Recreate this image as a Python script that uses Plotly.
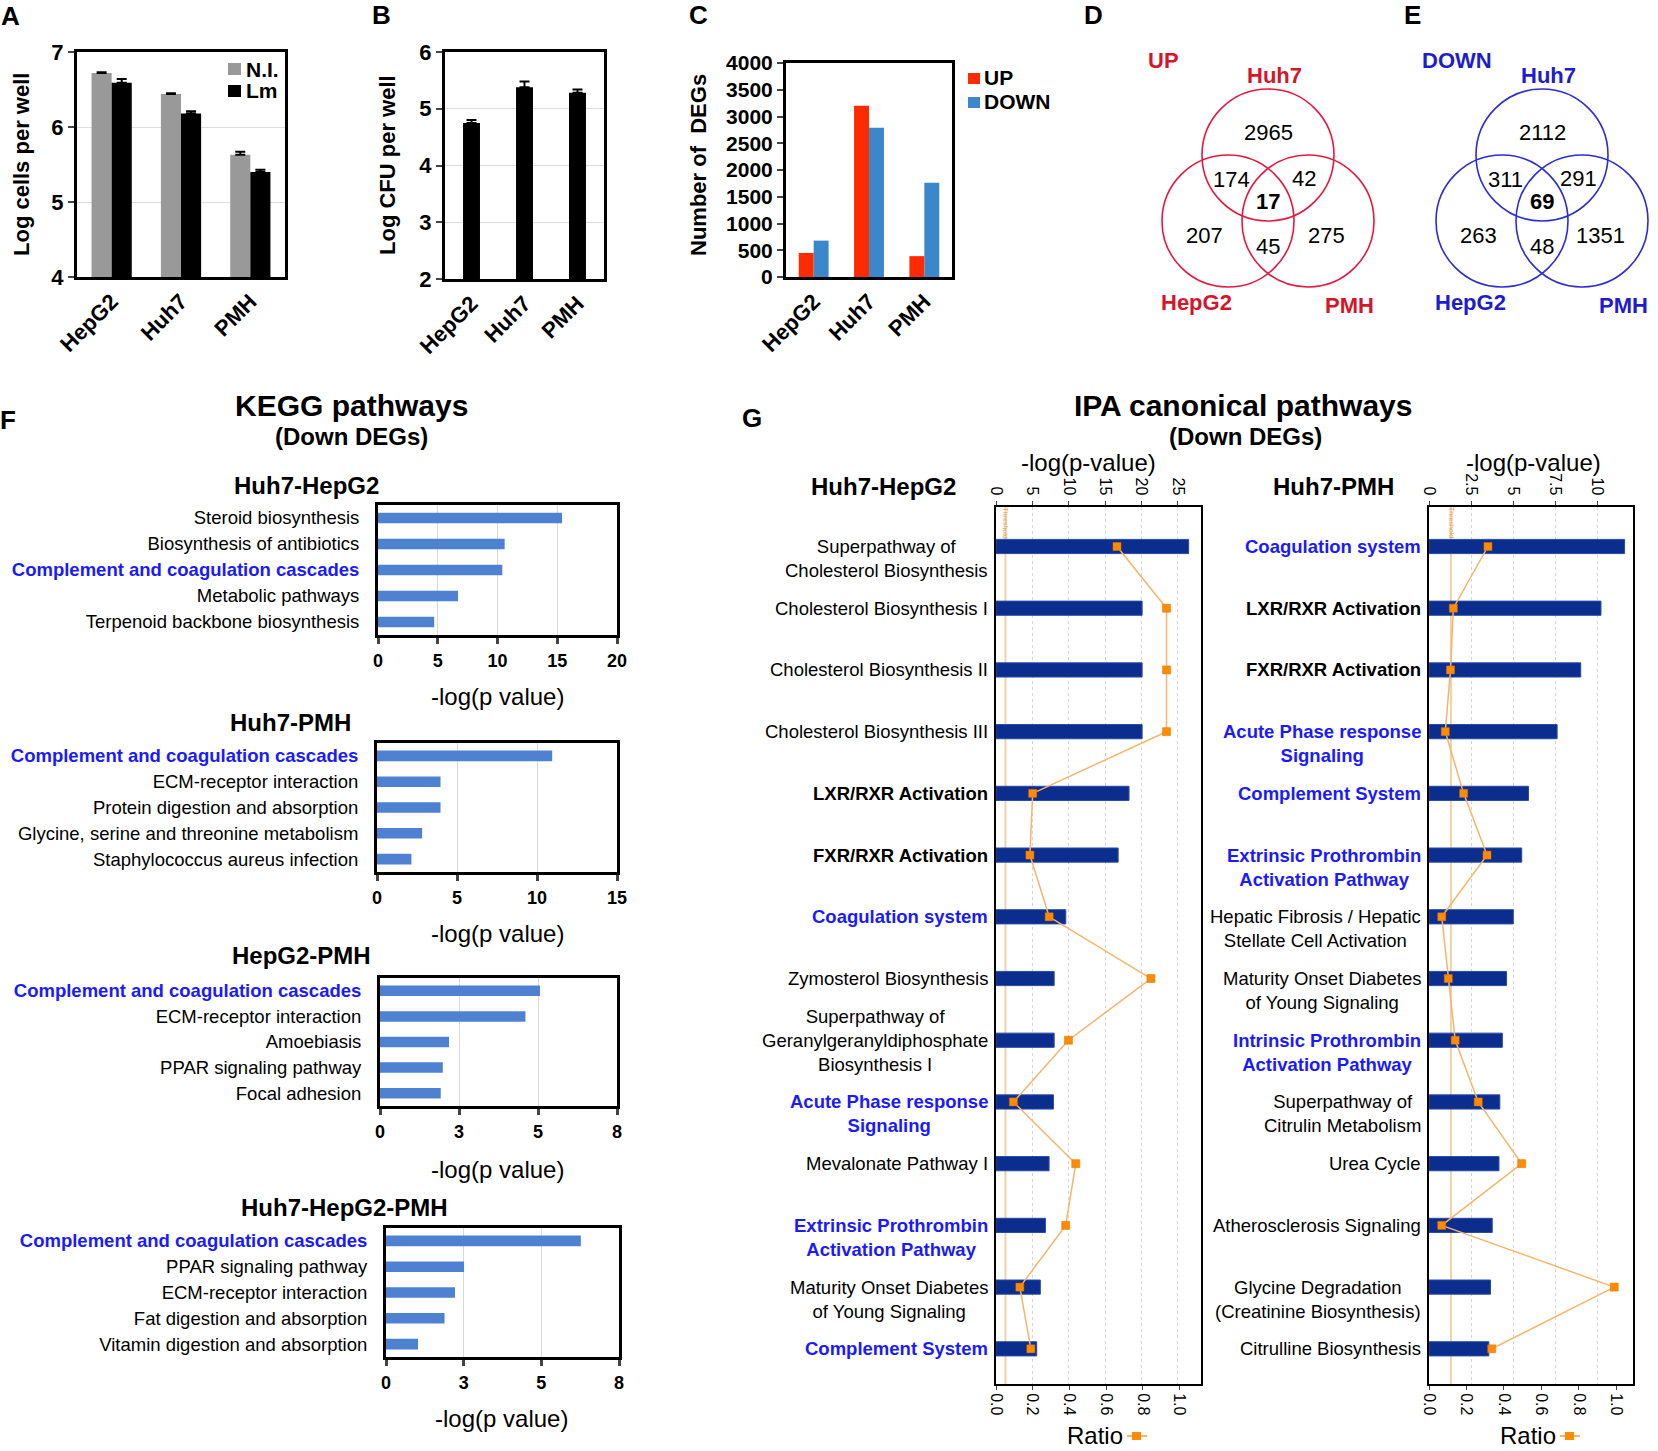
import plotly.graph_objects as go

W, H = 1658, 1451
FONT = "Liberation Sans, Arial, Helvetica, sans-serif"

# ---------------- data ----------------
cell_lines = ["HepG2", "Huh7", "PMH"]
a_series = ["N.I.", "Lm"]
a_ni = [6.72, 6.44, 5.63]
a_ni_err = [0.01, 0.01, 0.04]
a_lm = [6.59, 6.18, 5.40]
a_lm_err = [0.05, 0.03, 0.03]
b_cfu = [4.75, 5.38, 5.28]
b_cfu_err = [0.05, 0.10, 0.06]
c_series = ["UP", "DOWN"]
c_up = [450, 3200, 390]
c_down = [680, 2790, 1760]

venn_sets = ["Huh7", "HepG2", "PMH"]
venn_regions = ["Huh7", "HepG2", "PMH", "Huh7+HepG2", "Huh7+PMH", "HepG2+PMH", "all"]
venn_up = [2965, 207, 275, 174, 42, 45, 17]
venn_down = [2112, 263, 1351, 311, 291, 48, 69]

kegg_highlight = "Complement and coagulation cascades"
f1_title = "Huh7-HepG2"
f1_terms = ["Steroid biosynthesis", "Biosynthesis of antibiotics",
            "Complement and coagulation cascades", "Metabolic pathways",
            "Terpenoid backbone biosynthesis"]
f1_vals = [15.4, 10.6, 10.4, 6.7, 4.7]
f2_title = "Huh7-PMH"
f2_terms = ["Complement and coagulation cascades", "ECM-receptor interaction",
            "Protein digestion and absorption", "Glycine, serine and threonine metabolism",
            "Staphylococcus aureus infection"]
f2_vals = [10.95, 3.97, 3.97, 2.82, 2.15]
f3_title = "HepG2-PMH"
f3_terms = ["Complement and coagulation cascades", "ECM-receptor interaction",
            "Amoebiasis", "PPAR signaling pathway", "Focal adhesion"]
f3_vals = [5.40, 4.91, 2.33, 2.12, 2.05]
f4_title = "Huh7-HepG2-PMH"
f4_terms = ["Complement and coagulation cascades", "PPAR signaling pathway",
            "ECM-receptor interaction", "Fat digestion and absorption",
            "Vitamin digestion and absorption"]
f4_vals = [6.69, 2.68, 2.37, 2.01, 1.10]
f_ticklabels_8 = ["0", "3", "5", "8"]

g1_title = "Huh7-HepG2"
g1_terms = ["Superpathway of<br>Cholesterol Biosynthesis", "Cholesterol Biosynthesis I",
            "Cholesterol Biosynthesis II", "Cholesterol Biosynthesis III",
            "LXR/RXR Activation", "FXR/RXR Activation", "Coagulation system",
            "Zymosterol Biosynthesis",
            "Superpathway of<br>Geranylgeranyldiphosphate<br>Biosynthesis I",
            "Acute Phase response<br>Signaling", "Mevalonate Pathway I",
            "Extrinsic Prothrombin<br>Activation Pathway",
            "Maturity Onset Diabetes<br>of Young Signaling", "Complement System"]
g1_logp = [26.5, 20.1, 20.1, 20.1, 18.3, 16.8, 9.6, 8.0, 8.0, 7.9, 7.3, 6.8, 6.1, 5.6]
g1_ratio = [0.66, 0.93, 0.93, 0.93, 0.20, 0.185, 0.29, 0.845, 0.395, 0.095, 0.435, 0.38, 0.13, 0.19]
g1_emph = ["", "", "", "", "bold", "bold", "blue", "", "", "blue", "", "blue", "", "blue"]

g2_title = "Huh7-PMH"
g2_terms = ["Coagulation system", "LXR/RXR Activation", "FXR/RXR Activation",
            "Acute Phase response<br>Signaling", "Complement System",
            "Extrinsic Prothrombin<br>Activation Pathway",
            "Hepatic Fibrosis / Hepatic<br>Stellate Cell Activation",
            "Maturity Onset Diabetes<br>of Young Signaling",
            "Intrinsic Prothrombin<br>Activation Pathway",
            "Superpathway of<br>Citrulin Metabolism", "Urea Cycle",
            "Atherosclerosis Signaling",
            "Glycine Degradation<br>(Creatinine Biosynthesis)", "Citrulline Biosynthesis"]
g2_logp = [11.6, 10.2, 9.0, 7.6, 5.9, 5.5, 5.0, 4.6, 4.35, 4.2, 4.15, 3.75, 3.65, 3.55]
g2_ratio = [0.315, 0.13, 0.115, 0.087, 0.185, 0.31, 0.068, 0.103, 0.14, 0.263, 0.495, 0.068, 0.99, 0.335]
g2_emph = ["blue", "bold", "bold", "blue", "blue", "blue", "", "", "blue", "", "", "", "", ""]
ipa_threshold = 1.3

# ---------------- helpers ----------------
def fx(px):
    return px / W


def fy(py):
    return 1 - py / H


annotations, shapes = [], []


def add_text(t, x, y, size, bold=False, color="black", xanchor="center",
             yanchor="middle", angle=0, yshift=0, align="center"):
    annotations.append(dict(
        text=t, showarrow=False, xanchor=xanchor, yanchor=yanchor, textangle=angle,
        align=align, x=fx(x), y=fy(y), xref="paper", yref="paper", yshift=yshift,
        font=dict(family=FONT, size=size, color=color, weight="bold" if bold else "normal")))


def add_rect(x0, y0, x1, y1, color):
    shapes.append(dict(type="rect", xref="paper", yref="paper", x0=fx(x0), x1=fx(x1),
                       y0=fy(y1), y1=fy(y0), fillcolor=color, line=dict(width=0)))


def xid(n):
    return "x" if n == 1 else f"x{n}"


def yid(n):
    return "y" if n == 1 else f"y{n}"


def xkey(n):
    return "xaxis" if n == 1 else f"xaxis{n}"


def ykey(n):
    return "yaxis" if n == 1 else f"yaxis{n}"


BASE = dict(showline=True, linecolor="black", mirror=True, zeroline=False,
            automargin=False, showgrid=False)

layout = dict(width=W, height=H, margin=dict(l=0, r=0, t=0, b=0), template="none",
              paper_bgcolor="white", plot_bgcolor="white",
              font=dict(family=FONT, color="black"), barmode="overlay", showlegend=False)

fig = go.Figure()

# ---------------- panels A, B, C ----------------
def top_axes(n, x0, x1, y0, y1, yrange, dtick, grid, ysize):
    layout[xkey(n)] = dict(BASE, domain=[fx(x0), fx(x1)], anchor=yid(n), range=[-0.5, 2.5],
                           linewidth=3, ticks="", tickangle=-45,
                           tickfont=dict(size=22, weight="bold"))
    layout[ykey(n)] = dict(BASE, domain=[fy(y1), fy(y0)], anchor=xid(n), range=yrange,
                           dtick=dtick, linewidth=3, ticks="outside", ticklen=6, tickwidth=2,
                           tickfont=dict(size=ysize, weight="bold"),
                           showgrid=grid, gridcolor="#dcdcdc", gridwidth=1)


top_axes(1, 77, 285, 52, 277, [4, 7], 1, True, 22)
top_axes(2, 445, 604, 52, 279, [2, 6], 1, True, 22)
top_axes(3, 786, 952, 63, 277, [0, 4000], 500, False, 21)

a_colors = ["#999999", "#000000"]
for vals, errs, name, col, off in [(a_ni, a_ni_err, a_series[0], a_colors[0], -0.29),
                                   (a_lm, a_lm_err, a_series[1], a_colors[1], 0.0)]:
    fig.add_trace(go.Bar(x=cell_lines, y=vals, name=name, xaxis="x", yaxis="y",
                         width=0.29, offset=off, marker=dict(color=col, line=dict(width=0)),
                         error_y=dict(type="data", array=errs, arrayminus=[0] * len(errs),
                                      symmetric=False, color="black", thickness=2, width=5)))

fig.add_trace(go.Bar(x=cell_lines, y=b_cfu, name="CFU", xaxis="x2", yaxis="y2", width=0.32,
                     marker=dict(color="black", line=dict(width=0)),
                     error_y=dict(type="data", array=b_cfu_err, arrayminus=[0] * 3,
                                  symmetric=False, color="black", thickness=2, width=5)))

c_colors = ["#ff2a00", "#3a88c9"]
for vals, name, col, off in [(c_up, c_series[0], c_colors[0], -0.27),
                             (c_down, c_series[1], c_colors[1], 0.0)]:
    fig.add_trace(go.Bar(x=cell_lines, y=vals, name=name, xaxis="x3", yaxis="y3",
                         width=0.27, offset=off, marker=dict(color=col, line=dict(width=0))))

# legends (A and C)
for i, (name, col) in enumerate(zip(a_series, a_colors)):
    add_rect(228, 63 + 22 * i, 241, 75 + 22 * i, col)
    add_text(name, 244, 69 + 22 * i, 21, bold=True, xanchor="left")
for i, (name, col) in enumerate(zip(c_series, c_colors)):
    add_rect(968, 73 + 24 * i, 980, 84 + 24 * i, col)
    add_text(name, 982, 78 + 24 * i, 21, bold=True, xanchor="left")

add_text("Log cells per well", 21, 165, 22, bold=True, angle=-90)
add_text("Log CFU per well", 387, 165, 22, bold=True, angle=-90)
add_text("Number of\u00a0 DEGs", 698, 165, 22, bold=True, angle=-90)

# ---------------- Venn diagrams D, E ----------------
circle_off = {"Huh7": (0, -44), "HepG2": (-40, 22), "PMH": (40, 22)}
region_off = {"Huh7": (0, -66), "HepG2": (-64, 36), "PMH": (58, 36),
              "Huh7+HepG2": (-37, -19), "Huh7+PMH": (36, -20),
              "HepG2+PMH": (0, 47), "all": (0, 3)}
setlabel_off = {"Huh7": (6, -124), "HepG2": (-72, 103), "PMH": (81, 106)}
R = 66
for title, counts, cx, cy, line_col, txt_col in [
        ("UP", venn_up, 1268, 199, "#e5193f", "#d4162c"),
        ("DOWN", venn_down, 1542, 199, "#2c2cd4", "#1d1dcc")]:
    for s in venn_sets:
        dx, dy = circle_off[s]
        shapes.append(dict(type="circle", xref="paper", yref="paper",
                           x0=fx(cx + dx - R), x1=fx(cx + dx + R),
                           y0=fy(cy + dy + R), y1=fy(cy + dy - R),
                           line=dict(color=line_col, width=1.6)))
        lx, ly = setlabel_off[s]
        add_text(s, cx + lx, cy + ly, 22, bold=True, color=txt_col)
    for reg, cnt in zip(venn_regions, counts):
        dx, dy = region_off[reg]
        add_text(str(cnt), cx + dx, cy + dy, 22, bold=(reg == "all"))
    add_text(title, cx - 122, cy - 139, 22, bold=True, color=txt_col, xanchor="left")

# ---------------- F: KEGG ----------------
f_panels = [
    (4, f1_title, f1_terms, f1_vals, (378, 617, 505, 635), 20, None, (306, 485), (498, 696)),
    (5, f2_title, f2_terms, f2_vals, (377, 617, 743, 872), 15, None, (290, 722), (497, 933)),
    (6, f3_title, f3_terms, f3_vals, (380, 617, 978, 1106), 8, f_ticklabels_8, (301, 955), (498, 1169)),
    (7, f4_title, f4_terms, f4_vals, (386, 619, 1228, 1357), 8, f_ticklabels_8, (344, 1207), (501, 1418)),
]
for n, title, terms, vals, (x0, x1, y0, y1), xmax, tl, tpos, xtpos in f_panels:
    if tl is None:
        tickvals = list(range(0, xmax + 1, 5))
        ticktext = [str(v) for v in tickvals]
    else:
        tickvals = [xmax * i / (len(tl) - 1) for i in range(len(tl))]
        ticktext = tl
    layout[xkey(n)] = dict(BASE, domain=[fx(x0), fx(x1)], anchor=yid(n), range=[0, xmax],
                           linewidth=3, tickvals=tickvals, ticktext=ticktext,
                           ticks="outside", ticklen=6, tickwidth=3, ticklabelstandoff=1,
                           tickfont=dict(size=18, weight="bold"),
                           showgrid=True, gridcolor="#d9d9d9", gridwidth=1)
    ytext = [f"<b><span style='color:#1a1aff'>{t}</span></b>" if t == kegg_highlight else t
             for t in terms]
    layout[ykey(n)] = dict(BASE, domain=[fy(y1), fy(y0)], anchor=xid(n), range=[4.5, -0.5],
                           linewidth=3, tickvals=terms, ticktext=ytext, ticks="",
                           ticklabelstandoff=12, tickfont=dict(size=18.5))
    fig.add_trace(go.Bar(x=vals, y=terms, orientation="h", xaxis=xid(n), yaxis=yid(n),
                         width=0.41, marker=dict(color="#4f81d3", line=dict(width=0))))
    add_text(title, tpos[0], tpos[1], 24, bold=True)
    add_text("-log(p value)", xtpos[0], xtpos[1], 24)

add_text("KEGG pathways", 351, 405, 30, bold=True)
add_text("(Down DEGs)", 351, 436, 24, bold=True)

# ---------------- G: IPA ----------------
GFS = 18.5
LH = GFS * 1.3
g_panels = [
    (8, 9, g1_title, g1_terms, g1_logp, g1_ratio, g1_emph, (996, 1201), 28.2, 5, 1.118, 883, 1088),
    (10, 11, g2_title, g2_terms, g2_logp, g2_ratio, g2_emph, (1429, 1633), 12.1, 2.5, 1.09, 1333, 1533),
]
GY0, GY1 = 507, 1384
for nb, nr, title, terms, logp, ratio, emph, (x0, x1), lmax, ldt, rmax, tx, ltx in g_panels:
    idx = list(range(len(terms)))
    layout[xkey(nb)] = dict(BASE, domain=[fx(x0), fx(x1)], anchor=yid(nb), side="top",
                            mirror=False, range=[0, lmax], dtick=ldt, linewidth=2,
                            ticks="outside", ticklen=4, tickwidth=1, tickangle=90,
                            tickfont=dict(size=16), showgrid=True, gridcolor="#d4d4d4",
                            griddash="dot", gridwidth=1)
    layout[xkey(nr)] = dict(BASE, overlaying=xid(nb), anchor=yid(nb), side="bottom",
                            mirror=False, range=[0, rmax], dtick=0.2, tickformat=".1f",
                            linewidth=2, ticks="outside", ticklen=4, tickwidth=1,
                            tickangle=90, tickfont=dict(size=16))
    layout[ykey(nb)] = dict(BASE, domain=[fy(GY1), fy(GY0)], anchor=xid(nb),
                            range=[len(terms) - 1 + 0.57, -0.64], linewidth=2,
                            showticklabels=False, ticks="")
    shapes.append(dict(type="line", xref=xid(nb), yref=f"{yid(nb)} domain",
                       x0=ipa_threshold, x1=ipa_threshold, y0=0, y1=1,
                       line=dict(color="#f2d2a4", width=2), layer="below"))
    annotations.append(dict(text="Threshold", xref=xid(nb), yref="paper", x=ipa_threshold,
                            y=fy(GY0 + 16), showarrow=False, textangle=90,
                            font=dict(size=7, color="#e0a860")))
    fig.add_trace(go.Bar(x=logp, y=idx, orientation="h", xaxis=xid(nb), yaxis=yid(nb),
                         width=0.23, marker=dict(color="#0b2d8e",
                                                 line=dict(color="#2a4aa6", width=1))))
    fig.add_trace(go.Scatter(x=ratio, y=idx, xaxis=xid(nr), yaxis=yid(nb),
                             mode="lines+markers", line=dict(color="#f5b56a", width=1.5),
                             marker=dict(symbol="square", size=8, color="#ff8c00",
                                         line=dict(color="#e07000", width=0.5))))
    for i, (t, e) in enumerate(zip(terms, emph)):
        nl = t.count("<br>") + 1
        shift = ((nl - 1) / 2 - (nl - 1) // 2) * LH
        col = "#1a1aff" if e == "blue" else "black"
        annotations.append(dict(
            text=t, showarrow=False, xref="paper", x=fx(x0 - 6), xanchor="right",
            yref=yid(nb), y=i, yanchor="middle", yshift=-shift, align="center",
            font=dict(family=FONT, size=GFS, color=col,
                      weight="bold" if e in ("blue", "bold") else "normal")))
    add_text(title, tx, 486, 24, bold=True)
    add_text("-log(p-value)", ltx, 462, 24)
    # Ratio legend
    add_text("Ratio", x0 + 69, 1435, 24, xanchor="left")
    shapes.append(dict(type="line", xref="paper", yref="paper", x0=fx(x0 + 131),
                       x1=fx(x0 + 151), y0=fy(1436), y1=fy(1436),
                       line=dict(color="#f5b56a", width=2)))
    add_rect(x0 + 136, 1432, x0 + 145, 1440, "#ff8c00")

add_text("IPA canonical pathways", 1243, 405, 30, bold=True)
add_text("(Down DEGs)", 1245, 436, 24, bold=True)

# ---------------- panel letters ----------------
for letter, x, y in [("A", 10, 16), ("B", 381, 15), ("C", 698, 15), ("D", 1093, 15),
                     ("E", 1412, 15), ("F", 8, 420), ("G", 752, 418)]:
    add_text(letter, x, y, 26, bold=True)

layout["annotations"] = annotations
layout["shapes"] = shapes
fig.update_layout(**layout)
fig.write_html("out.html", config={"displayModeBar": False},
               post_script="document.body.style.margin='0';document.body.style.overflow='hidden';")
